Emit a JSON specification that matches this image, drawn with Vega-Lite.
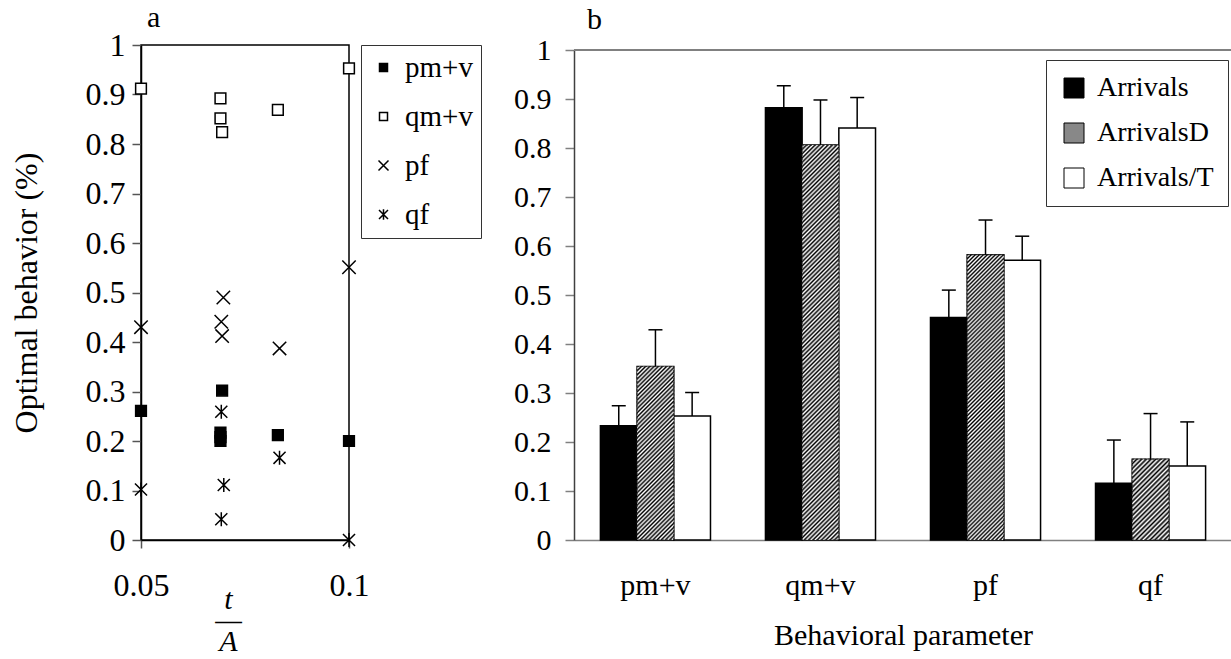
{
  "$schema": "https://vega.github.io/schema/vega-lite/v6.json",
  "padding": {"left": 9, "top": 2, "right": 0, "bottom": 0},
  "spacing": 30,
  "config": {
    "font": "Liberation Serif",
    "axis": {"labelFont": "Liberation Serif", "titleFont": "Liberation Serif", "labelColor": "black", "titleColor": "black", "titleFontWeight": "normal", "grid": false, "labelFlush": false},
    "legend": {"labelFont": "Liberation Serif", "labelColor": "black"},
    "title": {"font": "Liberation Serif", "fontWeight": "normal", "color": "black"}
  },
  "resolve": {"scale": {"fill": "independent", "shape": "independent", "color": "independent"}},
  "hconcat": [
    {
      "width": 208,
      "height": 495,
      "view": {"stroke": "black", "strokeWidth": 1.5},
      "title": {"text": "a", "anchor": "start", "frame": "group", "dx": 6, "offset": -4, "fontSize": 30},
      "data": {"values": [
        {"t": 0.05, "v": 0.261, "s": "pm+v"},
        {"t": 0.0695, "v": 0.302, "s": "pm+v"},
        {"t": 0.0691, "v": 0.217, "s": "pm+v"},
        {"t": 0.0691, "v": 0.208, "s": "pm+v"},
        {"t": 0.0691, "v": 0.2, "s": "pm+v"},
        {"t": 0.0829, "v": 0.212, "s": "pm+v"},
        {"t": 0.1, "v": 0.2, "s": "pm+v"},
        {"t": 0.05, "v": 0.912, "s": "qm+v"},
        {"t": 0.0691, "v": 0.892, "s": "qm+v"},
        {"t": 0.0691, "v": 0.852, "s": "qm+v"},
        {"t": 0.0695, "v": 0.824, "s": "qm+v"},
        {"t": 0.0829, "v": 0.869, "s": "qm+v"},
        {"t": 0.1, "v": 0.953, "s": "qm+v"},
        {"t": 0.05, "v": 0.43, "s": "pf"},
        {"t": 0.0698, "v": 0.49, "s": "pf"},
        {"t": 0.0693, "v": 0.441, "s": "pf"},
        {"t": 0.0695, "v": 0.412, "s": "pf"},
        {"t": 0.0833, "v": 0.387, "s": "pf"},
        {"t": 0.1, "v": 0.551, "s": "pf"},
        {"t": 0.05, "v": 0.102, "s": "qf"},
        {"t": 0.0693, "v": 0.259, "s": "qf"},
        {"t": 0.0699, "v": 0.111, "s": "qf"},
        {"t": 0.0693, "v": 0.042, "s": "qf"},
        {"t": 0.0833, "v": 0.166, "s": "qf"},
        {"t": 0.1, "v": 0, "s": "qf"}
      ]},
      "mark": {"type": "point", "filled": true, "stroke": "black", "strokeWidth": 1.5, "opacity": 1, "size": 180},
      "encoding": {
        "x": {"field": "t", "type": "quantitative", "scale": {"domain": [0.05, 0.1], "nice": false, "zero": false},
          "axis": {"values": [0.05, 0.1], "format": "~g", "tickSize": 8, "labelPadding": 22, "domainColor": "black", "domainWidth": 1.5, "tickColor": "#555", "tickWidth": 1.5, "labelFontSize": 32,
            "title": ["t", "—", "A"], "titleFontStyle": "italic", "titleFontSize": 30, "titleLineHeight": 21, "titleX": 87, "titleY": 68, "titleBaseline": "alphabetic", "titleAngle": 0, "titleAlign": "center"}},
        "y": {"field": "v", "type": "quantitative", "scale": {"domain": [0, 1], "nice": false},
          "axis": {"values": [0, 0.1, 0.2, 0.3, 0.4, 0.5, 0.6, 0.7, 0.8, 0.9, 1], "format": "~g", "tickSize": 9, "labelPadding": 7, "labelFontSize": 32, "domainColor": "black", "domainWidth": 1.5, "tickColor": "#555", "tickWidth": 1.5,
            "title": "Optimal behavior (%)", "titleFontSize": 32, "titlePadding": 42}},
        "shape": {"field": "s", "type": "nominal",
          "scale": {"domain": ["pm+v", "qm+v", "pf", "qf"], "range": ["M-0.8,-0.8L0.8,-0.8L0.8,0.8L-0.8,0.8Z", "M-0.8,-0.8L0.8,-0.8L0.8,0.8L-0.8,0.8Z", "M-1,-1L1,1M1,-1L-1,1", "M-0.9,-0.9L0.9,0.9M0.9,-0.9L-0.9,0.9M0,-1.05L0,1.05"]},
          "legend": {"title": null, "orient": "right", "offset": 12, "labelFontSize": 29, "symbolSize": 100, "symbolStrokeWidth": 1.5, "strokeColor": "#333", "padding": 8, "rowPadding": 19, "labelOffset": 7,
            "encode": {"symbols": {"update": {"stroke": {"value": "black"}, "strokeWidth": {"value": 1.5},
              "fill": {"condition": [{"test": "datum.value === 'pm+v'", "value": "black"}, {"test": "datum.value === 'qm+v'", "value": "white"}], "value": "transparent"}}}}}},
        "fill": {"field": "s", "type": "nominal",
          "scale": {"domain": ["pm+v", "qm+v", "pf", "qf"], "range": ["black", "white", "transparent", "transparent"]},
          "legend": null}
      }
    },
    {
      "width": 658,
      "height": 495,
      "view": {"stroke": null},
      "title": {"text": "b", "anchor": "start", "frame": "group", "dx": 13, "offset": 0, "fontSize": 30},
      "data": {"values": [
        {"p": "pm+v", "g": "Arrivals", "m": 0.233, "hi": 0.274},
        {"p": "pm+v", "g": "ArrivalsD", "m": 0.354, "hi": 0.429},
        {"p": "pm+v", "g": "Arrivals/T", "m": 0.253, "hi": 0.301},
        {"p": "qm+v", "g": "Arrivals", "m": 0.882, "hi": 0.927},
        {"p": "qm+v", "g": "ArrivalsD", "m": 0.806, "hi": 0.898},
        {"p": "qm+v", "g": "Arrivals/T", "m": 0.841, "hi": 0.903},
        {"p": "pf", "g": "Arrivals", "m": 0.454, "hi": 0.51},
        {"p": "pf", "g": "ArrivalsD", "m": 0.582, "hi": 0.653},
        {"p": "pf", "g": "Arrivals/T", "m": 0.571, "hi": 0.62},
        {"p": "qf", "g": "Arrivals", "m": 0.116, "hi": 0.204},
        {"p": "qf", "g": "ArrivalsD", "m": 0.165, "hi": 0.258},
        {"p": "qf", "g": "Arrivals/T", "m": 0.151, "hi": 0.241}
      ]},
      "layer": [
        {
          "mark": {"type": "bar", "stroke": "black", "strokeWidth": 1.5, "opacity": 1},
          "encoding": {
            "x": {"field": "p", "type": "nominal", "scale": {"domain": ["pm+v", "qm+v", "pf", "qf"], "paddingInner": 0.333, "paddingOuter": 0.16},
              "axis": {"title": "Behavioral parameter", "labelAngle": 0, "ticks": false, "labelPadding": 30, "domainColor": "#808080", "domainWidth": 1.5, "labelFontSize": 30, "titleFontSize": 30, "titlePadding": 20}},
            "xOffset": {"field": "g", "type": "nominal", "scale": {"domain": ["Arrivals", "ArrivalsD", "Arrivals/T"], "paddingInner": 0, "paddingOuter": 0}},
            "y": {"field": "m", "type": "quantitative", "scale": {"domain": [0, 1], "range": [495, 5], "nice": false},
              "axis": {"title": null, "values": [0, 0.1, 0.2, 0.3, 0.4, 0.5, 0.6, 0.7, 0.8, 0.9, 1], "format": "~g", "tickSize": 9, "labelPadding": 14, "labelFontSize": 30, "domainColor": "#404040", "domainWidth": 1.5, "tickColor": "#808080", "tickWidth": 1.5}},
            "color": {"field": "g", "type": "nominal", "scale": {"domain": ["Arrivals", "ArrivalsD", "Arrivals/T"], "range": ["black", "#888888", "white"]},
              "legend": {"title": null, "orient": "none", "legendX": 472, "legendY": 15, "symbolType": "square", "symbolSize": 400, "symbolStrokeColor": "black", "symbolStrokeWidth": 1, "labelFontSize": 28, "labelOffset": 9, "padding": 14, "rowPadding": 17, "strokeColor": "#333", "fillColor": "white",
                "encode": {"symbols": {"update": {"stroke": {"value": "black"}, "fill": {"condition": [
                  {"test": "datum.value === 'ArrivalsD'", "value": {"gradient": "linear", "x1": 0, "y1": 0, "x2": 1, "y2": 1, "stops": [
                    {"offset":0,"color":"#000"},{"offset":0.1,"color":"#fff"},{"offset":0.2,"color":"#000"},{"offset":0.3,"color":"#fff"},{"offset":0.4,"color":"#000"},{"offset":0.5,"color":"#fff"},{"offset":0.6,"color":"#000"},{"offset":0.7,"color":"#fff"},{"offset":0.8,"color":"#000"},{"offset":0.9,"color":"#fff"},{"offset":1,"color":"#000"}]}},
                  {"test": "datum.value === 'Arrivals'", "value": "black"}], "value": "white"}}}}}}
          }
        },
        {
          "transform": [{"filter": "datum.g === 'ArrivalsD' && datum.p === 'pm+v'"}],
          "mark": {"type": "bar", "stroke": "#222", "strokeWidth": 1, "strokeDash": [2, 2],
            "fill": {"gradient": "linear", "x1": 0, "y1": 0, "x2": 0.2453, "y2": 1.1596, "stops": [
{"offset":0,"color":"#000"},{"offset":0.01,"color":"#fff"},{"offset":0.02,"color":"#000"},{"offset":0.03,"color":"#fff"},{"offset":0.04,"color":"#000"},{"offset":0.05,"color":"#fff"},{"offset":0.06,"color":"#000"},{"offset":0.07,"color":"#fff"},{"offset":0.08,"color":"#000"},{"offset":0.09,"color":"#fff"},
{"offset":0.1,"color":"#000"},{"offset":0.11,"color":"#fff"},{"offset":0.12,"color":"#000"},{"offset":0.13,"color":"#fff"},{"offset":0.14,"color":"#000"},{"offset":0.15,"color":"#fff"},{"offset":0.16,"color":"#000"},{"offset":0.17,"color":"#fff"},{"offset":0.18,"color":"#000"},{"offset":0.19,"color":"#fff"},
{"offset":0.2,"color":"#000"},{"offset":0.21,"color":"#fff"},{"offset":0.22,"color":"#000"},{"offset":0.23,"color":"#fff"},{"offset":0.24,"color":"#000"},{"offset":0.25,"color":"#fff"},{"offset":0.26,"color":"#000"},{"offset":0.27,"color":"#fff"},{"offset":0.28,"color":"#000"},{"offset":0.29,"color":"#fff"},
{"offset":0.3,"color":"#000"},{"offset":0.31,"color":"#fff"},{"offset":0.32,"color":"#000"},{"offset":0.33,"color":"#fff"},{"offset":0.34,"color":"#000"},{"offset":0.35,"color":"#fff"},{"offset":0.36,"color":"#000"},{"offset":0.37,"color":"#fff"},{"offset":0.38,"color":"#000"},{"offset":0.39,"color":"#fff"},
{"offset":0.4,"color":"#000"},{"offset":0.41,"color":"#fff"},{"offset":0.42,"color":"#000"},{"offset":0.43,"color":"#fff"},{"offset":0.44,"color":"#000"},{"offset":0.45,"color":"#fff"},{"offset":0.46,"color":"#000"},{"offset":0.47,"color":"#fff"},{"offset":0.48,"color":"#000"},{"offset":0.49,"color":"#fff"},
{"offset":0.5,"color":"#000"},{"offset":0.51,"color":"#fff"},{"offset":0.52,"color":"#000"},{"offset":0.53,"color":"#fff"},{"offset":0.54,"color":"#000"},{"offset":0.55,"color":"#fff"},{"offset":0.56,"color":"#000"},{"offset":0.57,"color":"#fff"},{"offset":0.58,"color":"#000"},{"offset":0.59,"color":"#fff"},
{"offset":0.6,"color":"#000"},{"offset":0.61,"color":"#fff"},{"offset":0.62,"color":"#000"},{"offset":0.63,"color":"#fff"},{"offset":0.64,"color":"#000"},{"offset":0.65,"color":"#fff"},{"offset":0.66,"color":"#000"},{"offset":0.67,"color":"#fff"},{"offset":0.68,"color":"#000"},{"offset":0.69,"color":"#fff"},
{"offset":0.7,"color":"#000"},{"offset":0.71,"color":"#fff"},{"offset":0.72,"color":"#000"},{"offset":0.73,"color":"#fff"},{"offset":0.74,"color":"#000"},{"offset":0.75,"color":"#fff"},{"offset":0.76,"color":"#000"},{"offset":0.77,"color":"#fff"},{"offset":0.78,"color":"#000"},{"offset":0.79,"color":"#fff"},
{"offset":0.8,"color":"#000"},{"offset":0.81,"color":"#fff"},{"offset":0.82,"color":"#000"},{"offset":0.83,"color":"#fff"},{"offset":0.84,"color":"#000"},{"offset":0.85,"color":"#fff"},{"offset":0.86,"color":"#000"},{"offset":0.87,"color":"#fff"},{"offset":0.88,"color":"#000"},{"offset":0.89,"color":"#fff"},
{"offset":0.9,"color":"#000"},{"offset":0.91,"color":"#fff"},{"offset":0.92,"color":"#000"},{"offset":0.93,"color":"#fff"},{"offset":0.94,"color":"#000"},{"offset":0.95,"color":"#fff"},{"offset":0.96,"color":"#000"},{"offset":0.97,"color":"#fff"},{"offset":0.98,"color":"#000"},{"offset":0.99,"color":"#fff"},
{"offset":1,"color":"#000"}]}},
          "encoding": {"x": {"field": "p", "type": "nominal"}, "xOffset": {"field": "g", "type": "nominal"}, "y": {"field": "m", "type": "quantitative"}}
        },
        {
          "transform": [{"filter": "datum.g === 'ArrivalsD' && datum.p === 'qm+v'"}],
          "mark": {"type": "bar", "stroke": "#222", "strokeWidth": 1, "strokeDash": [2, 2],
            "fill": {"gradient": "linear", "x1": 0, "y1": 0, "x2": 0.1007, "y2": 1.0835, "stops": [
{"offset":0,"color":"#000"},{"offset":0.005,"color":"#fff"},{"offset":0.01,"color":"#000"},{"offset":0.015,"color":"#fff"},{"offset":0.02,"color":"#000"},{"offset":0.025,"color":"#fff"},{"offset":0.03,"color":"#000"},{"offset":0.035,"color":"#fff"},{"offset":0.04,"color":"#000"},{"offset":0.045,"color":"#fff"},
{"offset":0.05,"color":"#000"},{"offset":0.055,"color":"#fff"},{"offset":0.06,"color":"#000"},{"offset":0.065,"color":"#fff"},{"offset":0.07,"color":"#000"},{"offset":0.075,"color":"#fff"},{"offset":0.08,"color":"#000"},{"offset":0.085,"color":"#fff"},{"offset":0.09,"color":"#000"},{"offset":0.095,"color":"#fff"},
{"offset":0.1,"color":"#000"},{"offset":0.105,"color":"#fff"},{"offset":0.11,"color":"#000"},{"offset":0.115,"color":"#fff"},{"offset":0.12,"color":"#000"},{"offset":0.125,"color":"#fff"},{"offset":0.13,"color":"#000"},{"offset":0.135,"color":"#fff"},{"offset":0.14,"color":"#000"},{"offset":0.145,"color":"#fff"},
{"offset":0.15,"color":"#000"},{"offset":0.155,"color":"#fff"},{"offset":0.16,"color":"#000"},{"offset":0.165,"color":"#fff"},{"offset":0.17,"color":"#000"},{"offset":0.175,"color":"#fff"},{"offset":0.18,"color":"#000"},{"offset":0.185,"color":"#fff"},{"offset":0.19,"color":"#000"},{"offset":0.195,"color":"#fff"},
{"offset":0.2,"color":"#000"},{"offset":0.205,"color":"#fff"},{"offset":0.21,"color":"#000"},{"offset":0.215,"color":"#fff"},{"offset":0.22,"color":"#000"},{"offset":0.225,"color":"#fff"},{"offset":0.23,"color":"#000"},{"offset":0.235,"color":"#fff"},{"offset":0.24,"color":"#000"},{"offset":0.245,"color":"#fff"},
{"offset":0.25,"color":"#000"},{"offset":0.255,"color":"#fff"},{"offset":0.26,"color":"#000"},{"offset":0.265,"color":"#fff"},{"offset":0.27,"color":"#000"},{"offset":0.275,"color":"#fff"},{"offset":0.28,"color":"#000"},{"offset":0.285,"color":"#fff"},{"offset":0.29,"color":"#000"},{"offset":0.295,"color":"#fff"},
{"offset":0.3,"color":"#000"},{"offset":0.305,"color":"#fff"},{"offset":0.31,"color":"#000"},{"offset":0.315,"color":"#fff"},{"offset":0.32,"color":"#000"},{"offset":0.325,"color":"#fff"},{"offset":0.33,"color":"#000"},{"offset":0.335,"color":"#fff"},{"offset":0.34,"color":"#000"},{"offset":0.345,"color":"#fff"},
{"offset":0.35,"color":"#000"},{"offset":0.355,"color":"#fff"},{"offset":0.36,"color":"#000"},{"offset":0.365,"color":"#fff"},{"offset":0.37,"color":"#000"},{"offset":0.375,"color":"#fff"},{"offset":0.38,"color":"#000"},{"offset":0.385,"color":"#fff"},{"offset":0.39,"color":"#000"},{"offset":0.395,"color":"#fff"},
{"offset":0.4,"color":"#000"},{"offset":0.405,"color":"#fff"},{"offset":0.41,"color":"#000"},{"offset":0.415,"color":"#fff"},{"offset":0.42,"color":"#000"},{"offset":0.425,"color":"#fff"},{"offset":0.43,"color":"#000"},{"offset":0.435,"color":"#fff"},{"offset":0.44,"color":"#000"},{"offset":0.445,"color":"#fff"},
{"offset":0.45,"color":"#000"},{"offset":0.455,"color":"#fff"},{"offset":0.46,"color":"#000"},{"offset":0.465,"color":"#fff"},{"offset":0.47,"color":"#000"},{"offset":0.475,"color":"#fff"},{"offset":0.48,"color":"#000"},{"offset":0.485,"color":"#fff"},{"offset":0.49,"color":"#000"},{"offset":0.495,"color":"#fff"},
{"offset":0.5,"color":"#000"},{"offset":0.505,"color":"#fff"},{"offset":0.51,"color":"#000"},{"offset":0.515,"color":"#fff"},{"offset":0.52,"color":"#000"},{"offset":0.525,"color":"#fff"},{"offset":0.53,"color":"#000"},{"offset":0.535,"color":"#fff"},{"offset":0.54,"color":"#000"},{"offset":0.545,"color":"#fff"},
{"offset":0.55,"color":"#000"},{"offset":0.555,"color":"#fff"},{"offset":0.56,"color":"#000"},{"offset":0.565,"color":"#fff"},{"offset":0.57,"color":"#000"},{"offset":0.575,"color":"#fff"},{"offset":0.58,"color":"#000"},{"offset":0.585,"color":"#fff"},{"offset":0.59,"color":"#000"},{"offset":0.595,"color":"#fff"},
{"offset":0.6,"color":"#000"},{"offset":0.605,"color":"#fff"},{"offset":0.61,"color":"#000"},{"offset":0.615,"color":"#fff"},{"offset":0.62,"color":"#000"},{"offset":0.625,"color":"#fff"},{"offset":0.63,"color":"#000"},{"offset":0.635,"color":"#fff"},{"offset":0.64,"color":"#000"},{"offset":0.645,"color":"#fff"},
{"offset":0.65,"color":"#000"},{"offset":0.655,"color":"#fff"},{"offset":0.66,"color":"#000"},{"offset":0.665,"color":"#fff"},{"offset":0.67,"color":"#000"},{"offset":0.675,"color":"#fff"},{"offset":0.68,"color":"#000"},{"offset":0.685,"color":"#fff"},{"offset":0.69,"color":"#000"},{"offset":0.695,"color":"#fff"},
{"offset":0.7,"color":"#000"},{"offset":0.705,"color":"#fff"},{"offset":0.71,"color":"#000"},{"offset":0.715,"color":"#fff"},{"offset":0.72,"color":"#000"},{"offset":0.725,"color":"#fff"},{"offset":0.73,"color":"#000"},{"offset":0.735,"color":"#fff"},{"offset":0.74,"color":"#000"},{"offset":0.745,"color":"#fff"},
{"offset":0.75,"color":"#000"},{"offset":0.755,"color":"#fff"},{"offset":0.76,"color":"#000"},{"offset":0.765,"color":"#fff"},{"offset":0.77,"color":"#000"},{"offset":0.775,"color":"#fff"},{"offset":0.78,"color":"#000"},{"offset":0.785,"color":"#fff"},{"offset":0.79,"color":"#000"},{"offset":0.795,"color":"#fff"},
{"offset":0.8,"color":"#000"},{"offset":0.805,"color":"#fff"},{"offset":0.81,"color":"#000"},{"offset":0.815,"color":"#fff"},{"offset":0.82,"color":"#000"},{"offset":0.825,"color":"#fff"},{"offset":0.83,"color":"#000"},{"offset":0.835,"color":"#fff"},{"offset":0.84,"color":"#000"},{"offset":0.845,"color":"#fff"},
{"offset":0.85,"color":"#000"},{"offset":0.855,"color":"#fff"},{"offset":0.86,"color":"#000"},{"offset":0.865,"color":"#fff"},{"offset":0.87,"color":"#000"},{"offset":0.875,"color":"#fff"},{"offset":0.88,"color":"#000"},{"offset":0.885,"color":"#fff"},{"offset":0.89,"color":"#000"},{"offset":0.895,"color":"#fff"},
{"offset":0.9,"color":"#000"},{"offset":0.905,"color":"#fff"},{"offset":0.91,"color":"#000"},{"offset":0.915,"color":"#fff"},{"offset":0.92,"color":"#000"},{"offset":0.925,"color":"#fff"},{"offset":0.93,"color":"#000"},{"offset":0.935,"color":"#fff"},{"offset":0.94,"color":"#000"},{"offset":0.945,"color":"#fff"},
{"offset":0.95,"color":"#000"},{"offset":0.955,"color":"#fff"},{"offset":0.96,"color":"#000"},{"offset":0.965,"color":"#fff"},{"offset":0.97,"color":"#000"},{"offset":0.975,"color":"#fff"},{"offset":0.98,"color":"#000"},{"offset":0.985,"color":"#fff"},{"offset":0.99,"color":"#000"},{"offset":0.995,"color":"#fff"},
{"offset":1,"color":"#000"}]}},
          "encoding": {"x": {"field": "p", "type": "nominal"}, "xOffset": {"field": "g", "type": "nominal"}, "y": {"field": "m", "type": "quantitative"}}
        },
        {
          "transform": [{"filter": "datum.g === 'ArrivalsD' && datum.p === 'pf'"}],
          "mark": {"type": "bar", "stroke": "#222", "strokeWidth": 1, "strokeDash": [2, 2],
            "fill": {"gradient": "linear", "x1": 0, "y1": 0, "x2": 0.143, "y2": 1.1104, "stops": [
{"offset":0,"color":"#000"},{"offset":0.00625,"color":"#fff"},{"offset":0.0125,"color":"#000"},{"offset":0.01875,"color":"#fff"},{"offset":0.025,"color":"#000"},{"offset":0.03125,"color":"#fff"},{"offset":0.0375,"color":"#000"},{"offset":0.04375,"color":"#fff"},
{"offset":0.05,"color":"#000"},{"offset":0.05625,"color":"#fff"},{"offset":0.0625,"color":"#000"},{"offset":0.06875,"color":"#fff"},{"offset":0.075,"color":"#000"},{"offset":0.08125,"color":"#fff"},{"offset":0.0875,"color":"#000"},{"offset":0.09375,"color":"#fff"},
{"offset":0.1,"color":"#000"},{"offset":0.10625,"color":"#fff"},{"offset":0.1125,"color":"#000"},{"offset":0.11875,"color":"#fff"},{"offset":0.125,"color":"#000"},{"offset":0.13125,"color":"#fff"},{"offset":0.1375,"color":"#000"},{"offset":0.14375,"color":"#fff"},
{"offset":0.15,"color":"#000"},{"offset":0.15625,"color":"#fff"},{"offset":0.1625,"color":"#000"},{"offset":0.16875,"color":"#fff"},{"offset":0.175,"color":"#000"},{"offset":0.18125,"color":"#fff"},{"offset":0.1875,"color":"#000"},{"offset":0.19375,"color":"#fff"},
{"offset":0.2,"color":"#000"},{"offset":0.20625,"color":"#fff"},{"offset":0.2125,"color":"#000"},{"offset":0.21875,"color":"#fff"},{"offset":0.225,"color":"#000"},{"offset":0.23125,"color":"#fff"},{"offset":0.2375,"color":"#000"},{"offset":0.24375,"color":"#fff"},
{"offset":0.25,"color":"#000"},{"offset":0.25625,"color":"#fff"},{"offset":0.2625,"color":"#000"},{"offset":0.26875,"color":"#fff"},{"offset":0.275,"color":"#000"},{"offset":0.28125,"color":"#fff"},{"offset":0.2875,"color":"#000"},{"offset":0.29375,"color":"#fff"},
{"offset":0.3,"color":"#000"},{"offset":0.30625,"color":"#fff"},{"offset":0.3125,"color":"#000"},{"offset":0.31875,"color":"#fff"},{"offset":0.325,"color":"#000"},{"offset":0.33125,"color":"#fff"},{"offset":0.3375,"color":"#000"},{"offset":0.34375,"color":"#fff"},
{"offset":0.35,"color":"#000"},{"offset":0.35625,"color":"#fff"},{"offset":0.3625,"color":"#000"},{"offset":0.36875,"color":"#fff"},{"offset":0.375,"color":"#000"},{"offset":0.38125,"color":"#fff"},{"offset":0.3875,"color":"#000"},{"offset":0.39375,"color":"#fff"},
{"offset":0.4,"color":"#000"},{"offset":0.40625,"color":"#fff"},{"offset":0.4125,"color":"#000"},{"offset":0.41875,"color":"#fff"},{"offset":0.425,"color":"#000"},{"offset":0.43125,"color":"#fff"},{"offset":0.4375,"color":"#000"},{"offset":0.44375,"color":"#fff"},
{"offset":0.45,"color":"#000"},{"offset":0.45625,"color":"#fff"},{"offset":0.4625,"color":"#000"},{"offset":0.46875,"color":"#fff"},{"offset":0.475,"color":"#000"},{"offset":0.48125,"color":"#fff"},{"offset":0.4875,"color":"#000"},{"offset":0.49375,"color":"#fff"},
{"offset":0.5,"color":"#000"},{"offset":0.50625,"color":"#fff"},{"offset":0.5125,"color":"#000"},{"offset":0.51875,"color":"#fff"},{"offset":0.525,"color":"#000"},{"offset":0.53125,"color":"#fff"},{"offset":0.5375,"color":"#000"},{"offset":0.54375,"color":"#fff"},
{"offset":0.55,"color":"#000"},{"offset":0.55625,"color":"#fff"},{"offset":0.5625,"color":"#000"},{"offset":0.56875,"color":"#fff"},{"offset":0.575,"color":"#000"},{"offset":0.58125,"color":"#fff"},{"offset":0.5875,"color":"#000"},{"offset":0.59375,"color":"#fff"},
{"offset":0.6,"color":"#000"},{"offset":0.60625,"color":"#fff"},{"offset":0.6125,"color":"#000"},{"offset":0.61875,"color":"#fff"},{"offset":0.625,"color":"#000"},{"offset":0.63125,"color":"#fff"},{"offset":0.6375,"color":"#000"},{"offset":0.64375,"color":"#fff"},
{"offset":0.65,"color":"#000"},{"offset":0.65625,"color":"#fff"},{"offset":0.6625,"color":"#000"},{"offset":0.66875,"color":"#fff"},{"offset":0.675,"color":"#000"},{"offset":0.68125,"color":"#fff"},{"offset":0.6875,"color":"#000"},{"offset":0.69375,"color":"#fff"},
{"offset":0.7,"color":"#000"},{"offset":0.70625,"color":"#fff"},{"offset":0.7125,"color":"#000"},{"offset":0.71875,"color":"#fff"},{"offset":0.725,"color":"#000"},{"offset":0.73125,"color":"#fff"},{"offset":0.7375,"color":"#000"},{"offset":0.74375,"color":"#fff"},
{"offset":0.75,"color":"#000"},{"offset":0.75625,"color":"#fff"},{"offset":0.7625,"color":"#000"},{"offset":0.76875,"color":"#fff"},{"offset":0.775,"color":"#000"},{"offset":0.78125,"color":"#fff"},{"offset":0.7875,"color":"#000"},{"offset":0.79375,"color":"#fff"},
{"offset":0.8,"color":"#000"},{"offset":0.80625,"color":"#fff"},{"offset":0.8125,"color":"#000"},{"offset":0.81875,"color":"#fff"},{"offset":0.825,"color":"#000"},{"offset":0.83125,"color":"#fff"},{"offset":0.8375,"color":"#000"},{"offset":0.84375,"color":"#fff"},
{"offset":0.85,"color":"#000"},{"offset":0.85625,"color":"#fff"},{"offset":0.8625,"color":"#000"},{"offset":0.86875,"color":"#fff"},{"offset":0.875,"color":"#000"},{"offset":0.88125,"color":"#fff"},{"offset":0.8875,"color":"#000"},{"offset":0.89375,"color":"#fff"},
{"offset":0.9,"color":"#000"},{"offset":0.90625,"color":"#fff"},{"offset":0.9125,"color":"#000"},{"offset":0.91875,"color":"#fff"},{"offset":0.925,"color":"#000"},{"offset":0.93125,"color":"#fff"},{"offset":0.9375,"color":"#000"},{"offset":0.94375,"color":"#fff"},
{"offset":0.95,"color":"#000"},{"offset":0.95625,"color":"#fff"},{"offset":0.9625,"color":"#000"},{"offset":0.96875,"color":"#fff"},{"offset":0.975,"color":"#000"},{"offset":0.98125,"color":"#fff"},{"offset":0.9875,"color":"#000"},{"offset":0.99375,"color":"#fff"},
{"offset":1,"color":"#000"}]}},
          "encoding": {"x": {"field": "p", "type": "nominal"}, "xOffset": {"field": "g", "type": "nominal"}, "y": {"field": "m", "type": "quantitative"}}
        },
        {
          "transform": [{"filter": "datum.g === 'ArrivalsD' && datum.p === 'qf'"}],
          "mark": {"type": "bar", "stroke": "#222", "strokeWidth": 1, "strokeDash": [2, 2],
            "fill": {"gradient": "linear", "x1": 0, "y1": 0, "x2": 0.5468, "y2": 1.2055, "stops": [
{"offset":0,"color":"#000"},{"offset":0.02,"color":"#fff"},{"offset":0.04,"color":"#000"},{"offset":0.06,"color":"#fff"},{"offset":0.08,"color":"#000"},{"offset":0.1,"color":"#fff"},{"offset":0.12,"color":"#000"},{"offset":0.14,"color":"#fff"},{"offset":0.16,"color":"#000"},{"offset":0.18,"color":"#fff"},
{"offset":0.2,"color":"#000"},{"offset":0.22,"color":"#fff"},{"offset":0.24,"color":"#000"},{"offset":0.26,"color":"#fff"},{"offset":0.28,"color":"#000"},{"offset":0.3,"color":"#fff"},{"offset":0.32,"color":"#000"},{"offset":0.34,"color":"#fff"},{"offset":0.36,"color":"#000"},{"offset":0.38,"color":"#fff"},
{"offset":0.4,"color":"#000"},{"offset":0.42,"color":"#fff"},{"offset":0.44,"color":"#000"},{"offset":0.46,"color":"#fff"},{"offset":0.48,"color":"#000"},{"offset":0.5,"color":"#fff"},{"offset":0.52,"color":"#000"},{"offset":0.54,"color":"#fff"},{"offset":0.56,"color":"#000"},{"offset":0.58,"color":"#fff"},
{"offset":0.6,"color":"#000"},{"offset":0.62,"color":"#fff"},{"offset":0.64,"color":"#000"},{"offset":0.66,"color":"#fff"},{"offset":0.68,"color":"#000"},{"offset":0.7,"color":"#fff"},{"offset":0.72,"color":"#000"},{"offset":0.74,"color":"#fff"},{"offset":0.76,"color":"#000"},{"offset":0.78,"color":"#fff"},
{"offset":0.8,"color":"#000"},{"offset":0.82,"color":"#fff"},{"offset":0.84,"color":"#000"},{"offset":0.86,"color":"#fff"},{"offset":0.88,"color":"#000"},{"offset":0.9,"color":"#fff"},{"offset":0.92,"color":"#000"},{"offset":0.94,"color":"#fff"},{"offset":0.96,"color":"#000"},{"offset":0.98,"color":"#fff"},
{"offset":1,"color":"#000"}]}},
          "encoding": {"x": {"field": "p", "type": "nominal"}, "xOffset": {"field": "g", "type": "nominal"}, "y": {"field": "m", "type": "quantitative"}}
        },
        {
          "mark": {"type": "rule", "stroke": "black", "strokeWidth": 1.5},
          "encoding": {
            "x": {"field": "p", "type": "nominal"},
            "xOffset": {"field": "g", "type": "nominal"},
            "y": {"field": "m", "type": "quantitative"},
            "y2": {"field": "hi"}
          }
        },
        {
          "mark": {"type": "tick", "size": 14, "thickness": 1.5, "color": "black", "opacity": 1},
          "encoding": {
            "x": {"field": "p", "type": "nominal"},
            "xOffset": {"field": "g", "type": "nominal"},
            "y": {"field": "hi", "type": "quantitative"}
          }
        },
        {
          "mark": {"type": "rule", "stroke": "#808080", "strokeWidth": 1.5},
          "encoding": {"y": {"datum": 1}}
        }
      ]
    }
  ]
}
